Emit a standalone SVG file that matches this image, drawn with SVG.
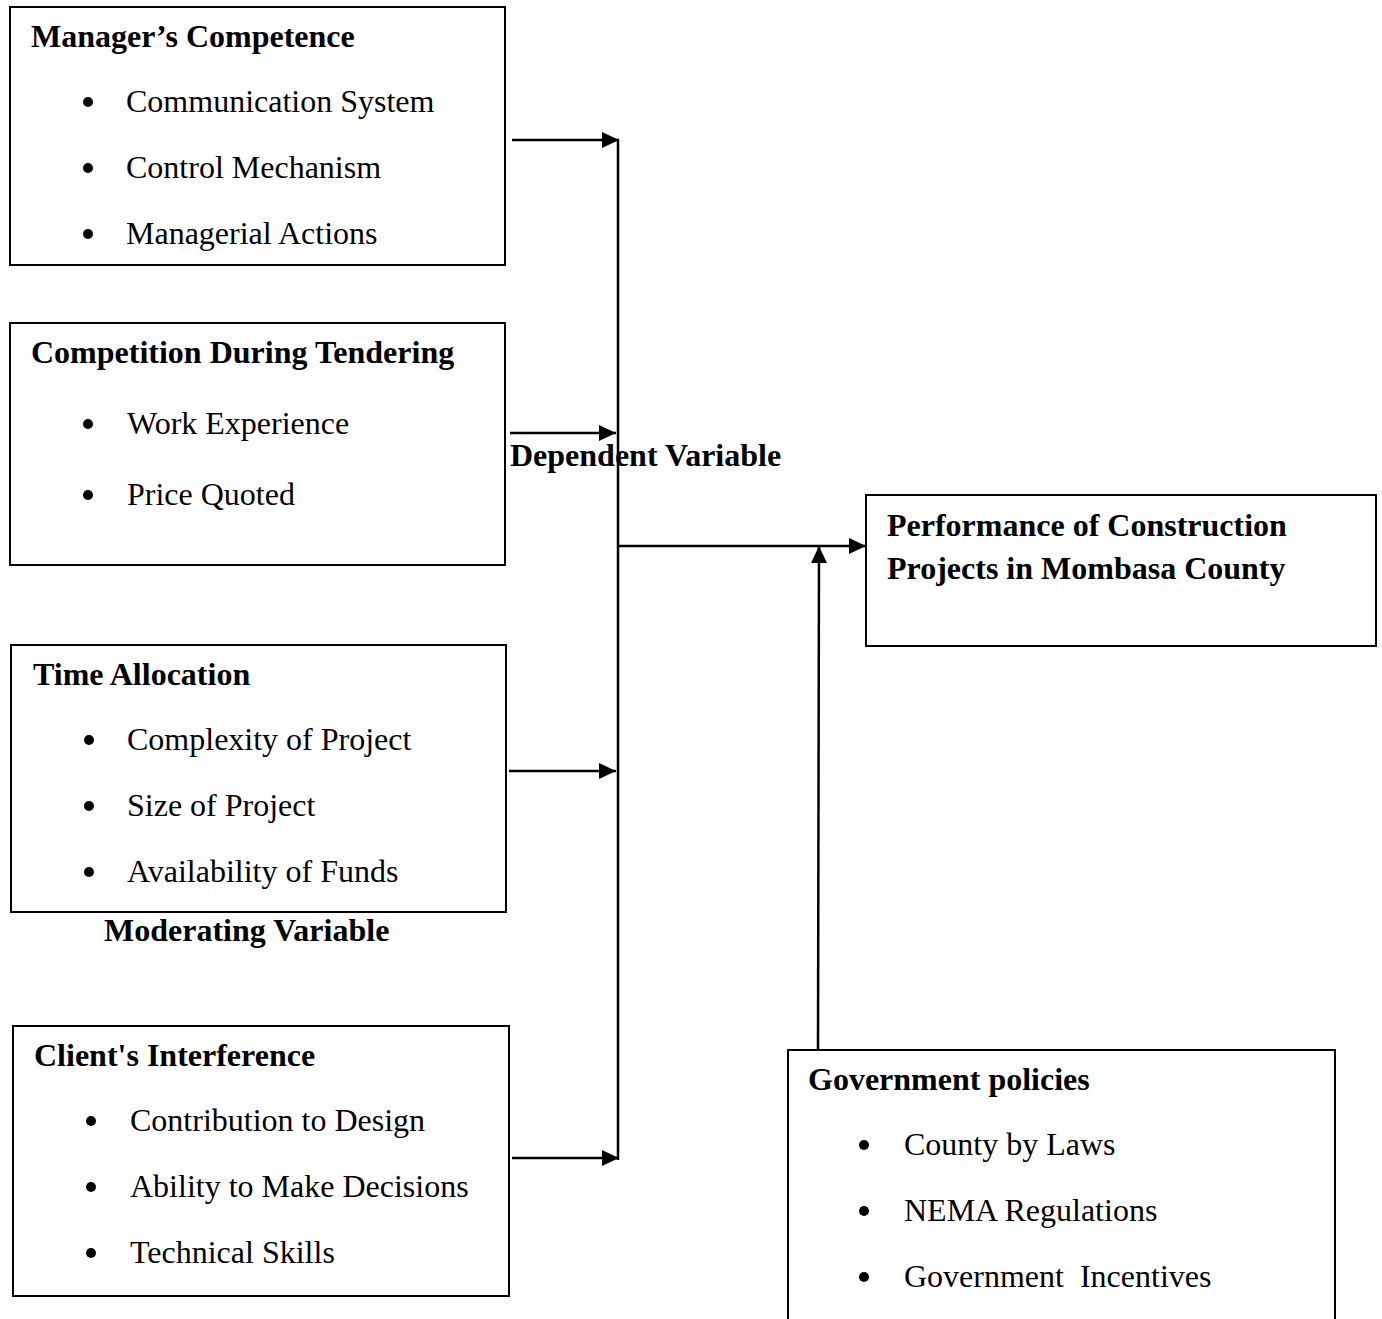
<svg xmlns="http://www.w3.org/2000/svg" width="1382" height="1319" viewBox="0 0 1382 1319">
<style>
.box{fill:#fff;stroke:#000;stroke-width:2}
.h{font-family:"Liberation Serif",serif;font-weight:bold;font-size:32px;fill:#000}
.t{font-family:"Liberation Serif",serif;font-size:32px;fill:#000}
.b{fill:#000}
.c{stroke:#000;stroke-width:2.5;fill:none}
</style>
<defs>
<marker id="ah" markerUnits="userSpaceOnUse" markerWidth="18" markerHeight="16" refX="17" refY="8" orient="auto">
<path d="M0,0 L17,8 L0,16 Z" fill="#000"/>
</marker>
</defs>
<rect width="1382" height="1319" fill="#fff"/>
<g id="connectors">
<line class="c" x1="618" y1="139" x2="618" y2="1160"/>
<line class="c" x1="512" y1="140" x2="619" y2="140" marker-end="url(#ah)"/>
<line class="c" x1="510" y1="433" x2="616" y2="433" marker-end="url(#ah)"/>
<line class="c" x1="509" y1="771" x2="616" y2="771" marker-end="url(#ah)"/>
<line class="c" x1="512" y1="1158" x2="619" y2="1158" marker-end="url(#ah)"/>
<line class="c" x1="618" y1="546" x2="866" y2="546" marker-end="url(#ah)"/>
<line class="c" x1="818" y1="1050" x2="819" y2="546" marker-end="url(#ah)"/>
</g>
<g id="managers-competence">
<rect class="box" x="10" y="7" width="495" height="258"/>
<text class="h" x="31" y="47">Manager’s Competence</text>
<circle class="b" cx="88" cy="102" r="5"/><text class="t" x="126" y="112">Communication System</text>
<circle class="b" cx="88" cy="168" r="5"/><text class="t" x="126" y="178">Control Mechanism</text>
<circle class="b" cx="88" cy="234" r="5"/><text class="t" x="126" y="244">Managerial Actions</text>
</g>
<g id="competition">
<rect class="box" x="10" y="323" width="495" height="242"/>
<text class="h" x="31" y="363">Competition During Tendering</text>
<circle class="b" cx="88" cy="424" r="5"/><text class="t" x="127" y="434">Work Experience</text>
<circle class="b" cx="88" cy="495" r="5"/><text class="t" x="127" y="505">Price Quoted</text>
</g>
<g id="dependent-label">
<text class="h" x="510" y="466">Dependent Variable</text>
</g>
<g id="time-allocation">
<rect class="box" x="11" y="645" width="495" height="267"/>
<text class="h" x="33" y="685">Time Allocation</text>
<circle class="b" cx="89" cy="740" r="5"/><text class="t" x="127" y="750">Complexity of Project</text>
<circle class="b" cx="89" cy="806" r="5"/><text class="t" x="127" y="816">Size of Project</text>
<circle class="b" cx="89" cy="872" r="5"/><text class="t" x="127" y="882">Availability of Funds</text>
</g>
<g id="moderating-label">
<text class="h" x="104" y="941">Moderating Variable</text>
</g>
<g id="clients-interference">
<rect class="box" x="13" y="1026" width="496" height="270"/>
<text class="h" x="34" y="1066">Client's Interference</text>
<circle class="b" cx="91" cy="1121" r="5"/><text class="t" x="130" y="1131">Contribution to Design</text>
<circle class="b" cx="91" cy="1187" r="5"/><text class="t" x="130" y="1197">Ability to Make Decisions</text>
<circle class="b" cx="91" cy="1253" r="5"/><text class="t" x="130" y="1263">Technical Skills</text>
</g>
<g id="performance">
<rect class="box" x="866" y="495" width="510" height="151"/>
<text class="h" x="887" y="536">Performance of Construction</text>
<text class="h" x="887" y="579">Projects in Mombasa County</text>
</g>
<g id="government-policies">
<rect class="box" x="788" y="1050" width="547" height="280"/>
<text class="h" x="808" y="1090">Government policies</text>
<circle class="b" cx="864" cy="1145" r="5"/><text class="t" x="904" y="1155">County by Laws</text>
<circle class="b" cx="864" cy="1211" r="5"/><text class="t" x="904" y="1221">NEMA Regulations</text>
<circle class="b" cx="864" cy="1277" r="5"/><text class="t" x="904" y="1287" xml:space="preserve">Government  Incentives</text>
</g>
</svg>
